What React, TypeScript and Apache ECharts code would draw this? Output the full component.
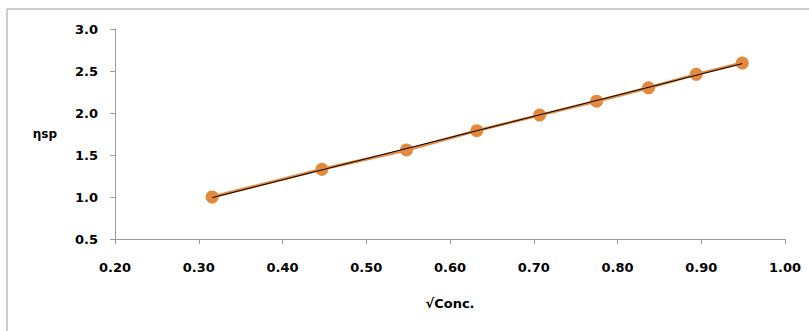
import React, { useEffect, useRef } from "react";
import * as echarts from "echarts";

const sqrtConc = [0.316, 0.447, 0.548, 0.632, 0.707, 0.775, 0.837, 0.894, 0.949];
const etaSp = [1.0, 1.33, 1.56, 1.79, 1.975, 2.14, 2.3, 2.46, 2.595];
const xAxisName = "√Conc.";
const yAxisName = "ηsp";

function linearFit(xs: number[], ys: number[]) {
  const n = xs.length;
  const mx = xs.reduce((a, b) => a + b, 0) / n;
  const my = ys.reduce((a, b) => a + b, 0) / n;
  let sxy = 0, sxx = 0;
  for (let i = 0; i < n; i++) {
    sxy += (xs[i] - mx) * (ys[i] - my);
    sxx += (xs[i] - mx) * (xs[i] - mx);
  }
  const b = sxy / sxx;
  const a = my - b * mx;
  return { a, b };
}

export default function App() {
  const ref = useRef<HTMLDivElement>(null);
  useEffect(() => {
    if (!ref.current) return;
    const chart = echarts.init(ref.current, null, { renderer: "svg" });
    const fit = linearFit(sqrtConc, etaSp);
    const x0 = sqrtConc[0];
    const x1 = sqrtConc[sqrtConc.length - 1];
    const font = "DejaVu Sans";
    chart.setOption({
      animation: false,
      backgroundColor: "#ffffff",
      graphic: [
        {
          type: "rect",
          shape: { x: 7, y: 9, width: 900, height: 400 },
          style: { fill: "none", stroke: "#9a9a9a", lineWidth: 1 },
          silent: true,
        },
      ],
      grid: { left: 115, top: 29, width: 670, height: 210, containLabel: false },
      xAxis: {
        type: "value",
        min: 0.2,
        max: 1.0,
        interval: 0.1,
        name: xAxisName,
        nameLocation: "middle",
        nameGap: 58,
        nameTextStyle: { fontFamily: font, fontWeight: "bold", fontSize: 13, color: "#000000" },
        axisLine: { lineStyle: { color: "#9a9a9a", width: 1 } },
        axisTick: { show: true, length: 5, inside: false, lineStyle: { color: "#9a9a9a" } },
        axisLabel: {
          margin: 22,
          fontFamily: font,
          fontWeight: "bold",
          fontSize: 13,
          color: "#000000",
          formatter: (v: number) => v.toFixed(2),
        },
        splitLine: { show: false },
      },
      yAxis: {
        type: "value",
        min: 0.5,
        max: 3.0,
        interval: 0.5,
        name: yAxisName,
        nameLocation: "middle",
        nameRotate: 0,
        nameGap: 58,
        nameTextStyle: { fontFamily: font, fontWeight: "bold", fontSize: 12, color: "#000000" },
        axisLine: { show: true, lineStyle: { color: "#9a9a9a", width: 1 } },
        axisTick: { show: true, length: 5, inside: false, lineStyle: { color: "#9a9a9a" } },
        axisLabel: {
          margin: 17,
          fontFamily: font,
          fontWeight: "bold",
          fontSize: 13,
          color: "#000000",
          formatter: (v: number) => v.toFixed(1),
        },
        splitLine: { show: false },
      },
      series: [
        {
          type: "line",
          data: sqrtConc.map((x, i) => [x, etaSp[i]]),
          symbol: "circle",
          symbolSize: 13,
          itemStyle: { color: "#E2893D" },
          lineStyle: { color: "#E2893D", width: 3 },
          z: 2,
        },
        {
          type: "line",
          data: [
            [x0, fit.a + fit.b * x0],
            [x1, fit.a + fit.b * x1],
          ],
          symbol: "none",
          lineStyle: { color: "#000000", width: 1 },
          z: 3,
        },
      ],
    });
    return () => chart.dispose();
  }, []);
  return (
    <div
      ref={ref}
      style={{ position: "fixed", left: 0, top: 0, width: 809, height: 331 }}
    />
  );
}
